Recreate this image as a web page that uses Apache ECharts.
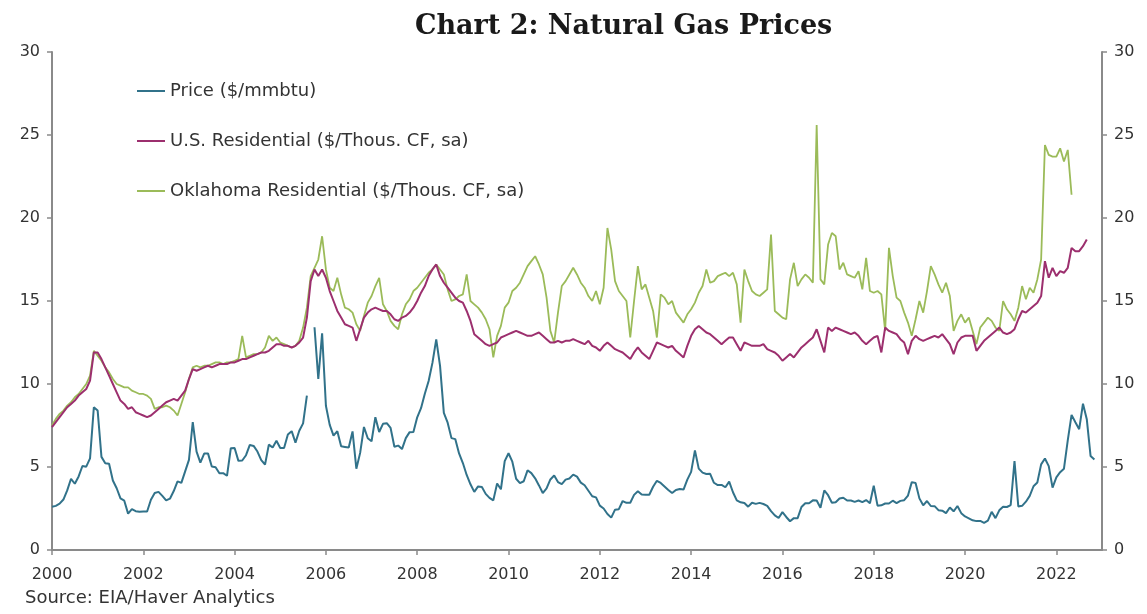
<!DOCTYPE html>
<html>
<head>
<meta charset="utf-8">
<script src="https://cdn.jsdelivr.net/npm/echarts@6/dist/echarts.min.js"></script>
<style>
html, body { margin: 0; padding: 0; background: #fff; }
#chart { width: 1147px; height: 614px; }
</style>
</head>
<body>
<div id="chart"></div>
<script>
// monthly series, first value = Jan 2000
const startYear = 2000;

const seriesNames = ['Price ($/mmbtu)', 'U.S. Residential ($/Thous. CF, sa)', 'Oklahoma Residential ($/Thous. CF, sa)'];

const priceVals = [
  2.60, 2.66, 2.79, 3.04, 3.59, 4.29, 3.99, 4.43, 5.06, 5.02, 5.52, 8.60,
  8.40, 5.61, 5.23, 5.19, 4.19, 3.72, 3.11, 2.97, 2.19, 2.46, 2.34, 2.30,
  2.32, 2.32, 3.03, 3.43, 3.50, 3.26, 2.99, 3.09, 3.55, 4.13, 4.04, 4.74,
  5.43, 7.71, 5.93, 5.26, 5.81, 5.82, 5.03, 4.99, 4.62, 4.63, 4.47, 6.13,
  6.14, 5.37, 5.39, 5.71, 6.33, 6.27, 5.93, 5.41, 5.15, 6.35, 6.17, 6.58,
  6.15, 6.14, 6.96, 7.16, 6.47, 7.18, 7.63, 9.30, null, 13.42, 10.30, 13.05,
  8.69, 7.54, 6.89, 7.16, 6.25, 6.21, 6.17, 7.14, 4.90, 5.85, 7.41, 6.73,
  6.55, 8.00, 7.11, 7.60, 7.64, 7.35, 6.22, 6.29, 6.08, 6.74, 7.10, 7.11,
  7.99, 8.54, 9.41, 10.18, 11.27, 12.69, 11.09, 8.26, 7.67, 6.74, 6.68, 5.82,
  5.24, 4.52, 3.96, 3.50, 3.83, 3.80, 3.38, 3.14, 2.99, 4.01, 3.66, 5.35,
  5.83, 5.32, 4.29, 4.03, 4.14, 4.80, 4.63, 4.32, 3.89, 3.43, 3.71, 4.25,
  4.49, 4.09, 3.97, 4.24, 4.31, 4.54, 4.42, 4.06, 3.90, 3.57, 3.24, 3.17,
  2.67, 2.50, 2.17, 1.95, 2.43, 2.46, 2.95, 2.84, 2.85, 3.32, 3.54, 3.34,
  3.33, 3.33, 3.81, 4.17, 4.04, 3.83, 3.62, 3.43, 3.62, 3.68, 3.64, 4.24,
  4.71, 6.00, 4.90, 4.66, 4.58, 4.59, 4.05, 3.91, 3.92, 3.78, 4.12, 3.48,
  2.99, 2.87, 2.83, 2.61, 2.85, 2.78, 2.84, 2.77, 2.66, 2.34, 2.09, 1.93,
  2.28, 1.99, 1.73, 1.92, 1.92, 2.59, 2.82, 2.82, 2.99, 2.98, 2.55, 3.59,
  3.30, 2.85, 2.88, 3.10, 3.15, 2.98, 2.98, 2.90, 2.98, 2.88, 3.01, 2.82,
  3.87, 2.67, 2.69, 2.80, 2.80, 2.97, 2.83, 2.96, 3.00, 3.28, 4.09, 4.04,
  3.11, 2.69, 2.95, 2.65, 2.64, 2.40, 2.37, 2.22, 2.56, 2.33, 2.65, 2.22,
  2.02, 1.91, 1.79, 1.74, 1.75, 1.63, 1.77, 2.30, 1.92, 2.39, 2.61, 2.59,
  2.71, 5.35, 2.62, 2.66, 2.91, 3.26, 3.84, 4.07, 5.16, 5.51, 5.05, 3.76,
  4.38, 4.69, 4.90, 6.60, 8.14, 7.70, 7.28, 8.81, 7.88, 5.66, 5.45
];

const usResVals = [
  7.4, 7.7, 8.0, 8.3, 8.6, 8.8, 9.0, 9.3, 9.5, 9.7, 10.2, 11.9,
  11.9, 11.5, 11.0, 10.5, 10.0, 9.5, 9.0, 8.8, 8.5, 8.6, 8.3, 8.2,
  8.1, 8.0, 8.1, 8.3, 8.5, 8.7, 8.9, 9.0, 9.1, 9.0, 9.3, 9.6,
  10.3, 10.9, 10.8, 10.9, 11.0, 11.1, 11.0, 11.1, 11.2, 11.2, 11.2, 11.3,
  11.3, 11.4, 11.5, 11.5, 11.6, 11.7, 11.8, 11.9, 11.9, 12.0, 12.2, 12.4,
  12.4, 12.3, 12.3, 12.2, 12.3, 12.5, 12.8, 14.0, 16.2, 16.9, 16.5, 16.9,
  16.4, 15.6, 15.0, 14.4, 14.0, 13.6, 13.5, 13.4, 12.6, 13.3, 14.0, 14.3,
  14.5, 14.6, 14.5, 14.4, 14.4, 14.2, 13.9, 13.8, 14.0, 14.1, 14.3, 14.6,
  15.0, 15.5, 15.9, 16.5, 16.9, 17.2, 16.5, 16.1, 15.8, 15.5, 15.2, 15.0,
  14.9, 14.4, 13.8, 13.0, 12.8, 12.6, 12.4, 12.3, 12.4, 12.5, 12.8, 12.9,
  13.0, 13.1, 13.2, 13.1, 13.0, 12.9, 12.9, 13.0, 13.1, 12.9, 12.7, 12.5,
  12.5, 12.6, 12.5, 12.6, 12.6, 12.7, 12.6, 12.5, 12.4, 12.6, 12.3, 12.2,
  12.0, 12.3, 12.5, 12.3, 12.1, 12.0, 11.9, 11.7, 11.5, 11.9, 12.2, 11.9,
  11.7, 11.5, 12.0, 12.5, 12.4, 12.3, 12.2, 12.3, 12.0, 11.8, 11.6, 12.3,
  12.9, 13.3, 13.5, 13.3, 13.1, 13.0, 12.8, 12.6, 12.4, 12.6, 12.8, 12.8,
  12.4, 12.0, 12.5, 12.4, 12.3, 12.3, 12.3, 12.4, 12.1, 12.0, 11.9, 11.7,
  11.4, 11.6, 11.8, 11.6, 11.9, 12.2, 12.4, 12.6, 12.8, 13.3, 12.6, 11.9,
  13.4, 13.2, 13.4, 13.3, 13.2, 13.1, 13.0, 13.1, 12.9, 12.6, 12.4, 12.6,
  12.8, 12.9, 11.9, 13.4, 13.2, 13.1, 13.0, 12.7, 12.5, 11.8, 12.6, 12.9,
  12.7, 12.6, 12.7, 12.8, 12.9, 12.8, 13.0, 12.7, 12.4, 11.8, 12.5, 12.8,
  12.9, 12.9, 12.9, 12.0, 12.3, 12.6, 12.8, 13.0, 13.2, 13.4, 13.1, 13.0,
  13.1, 13.3, 13.9, 14.4, 14.3, 14.5, 14.7, 14.9, 15.3, 17.4, 16.4, 17.0,
  16.5, 16.8, 16.7, 17.0, 18.2, 18.0, 18.0, 18.3, 18.7
];

const okResVals = [
  7.5, 7.9, 8.2, 8.4, 8.7, 8.9, 9.2, 9.4, 9.7, 10.0, 10.5, 12.0,
  11.7, 11.4, 11.0, 10.7, 10.3, 10.0, 9.9, 9.8, 9.8, 9.6, 9.5, 9.4,
  9.4, 9.3, 9.1, 8.5, 8.6, 8.6, 8.7, 8.6, 8.4, 8.1, 8.8, 9.5,
  10.3, 11.0, 11.1, 11.0, 11.1, 11.1, 11.2, 11.3, 11.3, 11.2, 11.3, 11.3,
  11.4, 11.5, 12.9, 11.6, 11.7, 11.8, 11.8, 11.9, 12.2, 12.9, 12.6, 12.8,
  12.5, 12.4, 12.3, 12.2, 12.3, 12.6, 13.4, 14.6, 16.5, 17.0, 17.5, 18.9,
  16.9, 15.8, 15.6, 16.4, 15.4, 14.6, 14.5, 14.3, 13.6, 13.2, 14.1, 14.9,
  15.3, 15.9, 16.4, 14.8, 14.4, 13.8, 13.5, 13.3, 14.2, 14.8, 15.1, 15.6,
  15.8, 16.1, 16.4, 16.7, 16.9, 17.2, 16.9, 16.6, 15.7, 15.0, 15.1, 15.3,
  15.4, 16.6, 15.0, 14.8, 14.6, 14.3, 13.9, 13.3, 11.6, 12.9, 13.5, 14.6,
  14.9, 15.6, 15.8, 16.1, 16.6, 17.1, 17.4, 17.7, 17.2, 16.6, 15.2, 13.2,
  12.5, 14.3, 15.9, 16.2, 16.6, 17.0, 16.6, 16.1, 15.8, 15.3, 15.0, 15.6,
  14.8, 15.8, 19.4, 18.1, 16.2, 15.6, 15.3, 15.0, 12.8, 15.0, 17.1, 15.7,
  16.0, 15.2, 14.4, 12.8, 15.4, 15.2, 14.8, 15.0, 14.3, 14.0, 13.7, 14.2,
  14.5, 14.9, 15.5, 15.9, 16.9, 16.1, 16.2, 16.5, 16.6, 16.7, 16.5, 16.7,
  16.0, 13.7, 16.9, 16.2, 15.6, 15.4, 15.3, 15.5, 15.7, 19.0, 14.4, 14.2,
  14.0, 13.9, 16.3, 17.3, 15.9, 16.3, 16.6, 16.4, 16.1, 25.6, 16.3, 16.0,
  18.4, 19.1, 18.9, 16.9, 17.3, 16.6, 16.5, 16.4, 16.8, 15.7, 17.6, 15.6,
  15.5, 15.6, 15.4, 13.2, 18.2, 16.5, 15.2, 15.0, 14.3, 13.7, 12.9, 13.9,
  15.0, 14.3, 15.6, 17.1, 16.6, 16.0, 15.5, 16.1, 15.3, 13.2, 13.8, 14.2,
  13.7, 14.0, 13.2, 12.4, 13.4, 13.7, 14.0, 13.8, 13.4, 13.2, 15.0, 14.5,
  14.2, 13.8, 14.6, 15.9, 15.1, 15.8, 15.5, 16.3, 17.5, 24.4, 23.8, 23.7,
  23.7, 24.2, 23.4, 24.1, 21.4
];

const yMin = 0, yMax = 30, yStep = 5;
const xMin = 2000, xMax = 2023, xStep = 2;

function toPoints(vals) {
  return vals.map((v, i) => [startYear + i / 12, v]);
}

const axisColor = '#8a8a8a';
const labelColor = '#333';
const sans = 'DejaVu Sans';

function yAxisDef(pos) {
  return {
    type: 'value',
    position: pos,
    min: yMin,
    max: yMax,
    interval: yStep,
    axisLine: { show: true, lineStyle: { color: axisColor, width: 2 } },
    axisTick: { show: true, length: 5, lineStyle: { color: axisColor, width: 1.5 } },
    axisLabel: { color: labelColor, fontSize: 16, fontFamily: sans, margin: 12 },
    splitLine: { show: false }
  };
}

const chart = echarts.init(document.getElementById('chart'));

const option = {
  animation: false,
  backgroundColor: '#fff',
  title: {
    text: 'Chart 2: Natural Gas Prices',
    left: 410,
    top: 8,
    textStyle: { fontFamily: 'DejaVu Serif', fontWeight: 'bold', fontSize: 27, color: '#1a1a1a' }
  },
  legend: {
    data: seriesNames,
    orient: 'vertical',
    left: 132,
    top: 77,
    itemGap: 32,
    itemWidth: 28,
    itemHeight: 2,
    icon: 'rect',
    textStyle: { fontFamily: sans, fontSize: 18, color: labelColor }
  },
  graphic: [{
    type: 'text',
    left: 25,
    top: 589,
    style: { text: 'Source: EIA/Haver Analytics', fontFamily: sans, fontSize: 18, fill: labelColor }
  }],
  grid: { left: 52, right: 45, top: 52, bottom: 64 },
  xAxis: {
    type: 'value',
    min: xMin,
    max: xMax,
    interval: xStep,
    axisLine: { show: true, lineStyle: { color: axisColor, width: 2 } },
    axisTick: { show: true, length: 5, lineStyle: { color: axisColor, width: 1.5 } },
    axisLabel: {
      color: labelColor, fontSize: 16, fontFamily: sans, margin: 17, showMaxLabel: false,
      formatter: v => String(v)
    },
    splitLine: { show: false }
  },
  yAxis: [yAxisDef('left'), yAxisDef('right')],
  series: [
    {
      name: seriesNames[0], type: 'line', data: toPoints(priceVals),
      showSymbol: false, connectNulls: false, z: 4,
      lineStyle: { color: '#31728a', width: 2 }, itemStyle: { color: '#31728a' }
    },
    {
      name: seriesNames[1], type: 'line', data: toPoints(usResVals),
      showSymbol: false, z: 3,
      lineStyle: { color: '#9c2f6e', width: 2 }, itemStyle: { color: '#9c2f6e' }
    },
    {
      name: seriesNames[2], type: 'line', data: toPoints(okResVals),
      showSymbol: false, z: 2,
      lineStyle: { color: '#9bbb59', width: 1.8 }, itemStyle: { color: '#9bbb59' }
    }
  ]
};

chart.setOption(option);
window.addEventListener('resize', () => chart.resize());
</script>
</body>
</html>
